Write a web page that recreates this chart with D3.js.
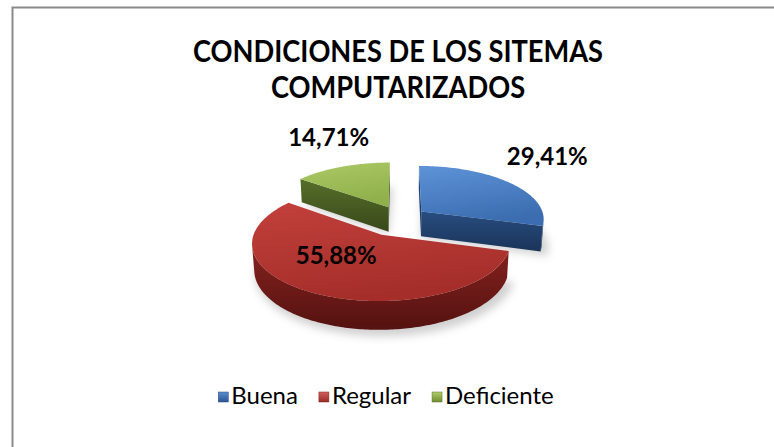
<!DOCTYPE html>
<html>
<head>
<meta charset="utf-8">
<script src="https://cdn.jsdelivr.net/npm/d3@7/dist/d3.min.js"></script>
<style>
  html, body { margin: 0; padding: 0; background: #ffffff; }
  svg { display: block; }
</style>
</head>
<body>
<svg id="chart" width="774" height="447"></svg>
<script>
// ---------------- DATA ----------------
const categories = ["Buena", "Regular", "Deficiente"];
const values = [29.41, 55.88, 14.71];
const valueLabels = ["29,41%", "55,88%", "14,71%"];
const titleLines = ["CONDICIONES DE LOS SITEMAS", "COMPUTARIZADOS"];

// ---------------- LAYOUT / STYLE ----------------
const W = 774, H = 447;
const FONT = "Lato, 'Open Sans', 'Liberation Sans', sans-serif";
const geo = {
  cx: 401, cy: 218,        // projected center of the top plane
  k0: 123,                 // px per radius at center depth
  D: 7,                    // camera distance (in radii)
  phi: 25.5 * Math.PI / 180, // elevation
  h: 0.23                  // thickness (in radii)
};
const explode = [0.21, 0.34, 0.235];      // per slice, in radii
const labelR = [1.45, 0.70, 1.32];        // radial position of labels
const labelDx = [2, 0, 0];
const labelDy = [-16, -20, -19];
const palette = [
  { top: ["#5e93d8", "#3b6db0"], side: ["#284d80", "#1a3459"], key: ["#5a8ed0", "#2c5590"] },
  { top: ["#c2403b", "#a52e2a"], side: ["#86221f", "#541210"], key: ["#d0605c", "#9b2b28"] },
  { top: ["#acca66", "#8fb04a"], side: ["#566e2a", "#38481a"], key: ["#b0cc6a", "#6f8c30"] }
];

const svg = d3.select("#chart");
const defs = svg.append("defs");

palette.forEach((p, i) => {
  const g1 = defs.append("linearGradient").attr("id", "top" + i)
    .attr("x1", 0).attr("y1", 0).attr("x2", 0.3).attr("y2", 1);
  g1.append("stop").attr("offset", "0%").attr("stop-color", p.top[0]);
  g1.append("stop").attr("offset", "100%").attr("stop-color", p.top[1]);
  const g2 = defs.append("linearGradient").attr("id", "side" + i)
    .attr("x1", 0).attr("y1", 0).attr("x2", 0).attr("y2", 1);
  g2.append("stop").attr("offset", "0%").attr("stop-color", p.side[0]);
  g2.append("stop").attr("offset", "100%").attr("stop-color", p.side[1]);
  const g3 = defs.append("linearGradient").attr("id", "key" + i)
    .attr("x1", 0).attr("y1", 0).attr("x2", 0).attr("y2", 1);
  g3.append("stop").attr("offset", "0%").attr("stop-color", p.key[0]);
  g3.append("stop").attr("offset", "100%").attr("stop-color", p.key[1]);
});
defs.append("filter").attr("id", "blur").attr("x", "-20%").attr("y", "-50%")
  .attr("width", "140%").attr("height", "200%")
  .append("feGaussianBlur").attr("stdDeviation", 4);

// frame
svg.append("path")
  .attr("d", `M12.5,${H} L12.5,7.5 L${W},7.5`)
  .attr("fill", "none").attr("stroke", "#8a8a8a").attr("stroke-width", 2);

// ---------------- TITLE ----------------
const title = svg.append("g").attr("font-family", FONT).attr("font-weight", 700)
  .attr("text-anchor", "middle").attr("fill", "#000");
const TS = 30;
const t1 = title.append("text").attr("x", 398).attr("y", 62).attr("font-size", TS).text(titleLines[0]);
const t2 = title.append("text").attr("x", 398).attr("y", 98).attr("font-size", TS).text(titleLines[1]);
const squeeze = 410 / t1.node().getComputedTextLength();
[t1, t2].forEach(t => {
  const w = t.node().getComputedTextLength();
  t.attr("textLength", w * squeeze).attr("lengthAdjust", "spacingAndGlyphs");
});

// ---------------- 3D PIE ----------------
const cosP = Math.cos(geo.phi), sinP = Math.sin(geo.phi);
function P(X, Y, Z) {
  const yc = Y * cosP + Z * sinP;
  const zc = Z * cosP - Y * sinP;
  const s = geo.k0 * geo.D / (geo.D + zc);
  return [geo.cx + s * X, geo.cy - s * yc];
}
const cam = [0, geo.D * sinP, -geo.D * cosP];

const arcs = d3.pie().sort(null).value(d => d).startAngle(0).endAngle(2 * Math.PI)(values);
const line = d3.line();
const STEP = Math.PI / 180;

function sampleAngles(a, b) {
  const n = Math.max(2, Math.ceil((b - a) / STEP));
  return d3.range(n + 1).map(k => a + (b - a) * k / n);
}

const slices = arcs.map((a, i) => {
  const mid = (a.startAngle + a.endAngle) / 2;
  const ax = explode[i] * Math.sin(mid), az = explode[i] * Math.cos(mid);
  return { i, a0: a.startAngle, a1: a.endAngle, mid, ax, az };
});

const rim = (s, t, Y) => P(s.ax + Math.sin(t), Y, s.az + Math.cos(t));
const apex = (s, Y) => P(s.ax, Y, s.az);

function visible(n, p) {
  return n[0] * (cam[0] - p[0]) + n[1] * (cam[1] - p[1]) + n[2] * (cam[2] - p[2]) > 0;
}

// shadow
const shadowG = svg.append("g").attr("filter", "url(#blur)").attr("opacity", 0.35);
slices.forEach(s => {
  const pts = [apex(s, -geo.h - 0.02)].concat(sampleAngles(s.a0, s.a1).map(t =>
    P(s.ax + 1.02 * Math.sin(t) + 0.03, -geo.h - 0.02, s.az + 1.02 * Math.cos(t) - 0.03)));
  shadowG.append("path").attr("d", line(pts) + "Z").attr("fill", "#7a7a7a");
});

const pieG = svg.append("g");
const order = slices.slice().sort((p, q) => q.az - p.az);
order.forEach(s => {
  const g = pieG.append("g");
  const top = 0, bot = -geo.h;
  [[s.a0, -1], [s.a1, 1]].forEach(([t, sign]) => {
    const n = [sign * Math.cos(t), 0, -sign * Math.sin(t)];
    const pm = [s.ax + 0.5 * Math.sin(t), -geo.h / 2, s.az + 0.5 * Math.cos(t)];
    if (visible(n, pm)) {
      const pts = [apex(s, top), rim(s, t, top), rim(s, t, bot), apex(s, bot)];
      g.append("path").attr("d", line(pts) + "Z").attr("fill", `url(#side${s.i})`);
    }
  });
  const ang = sampleAngles(s.a0, s.a1);
  let run = [];
  const runs = [];
  ang.forEach(t => {
    const n = [Math.sin(t), 0, Math.cos(t)];
    const pm = [s.ax + Math.sin(t), -geo.h / 2, s.az + Math.cos(t)];
    if (visible(n, pm)) run.push(t);
    else if (run.length) { runs.push(run); run = []; }
  });
  if (run.length) runs.push(run);
  runs.forEach(r => {
    if (r.length < 2) return;
    const pts = r.map(t => rim(s, t, top)).concat(r.slice().reverse().map(t => rim(s, t, bot)));
    g.append("path").attr("d", line(pts) + "Z").attr("fill", `url(#side${s.i})`);
  });
  const tp = [apex(s, top)].concat(ang.map(t => rim(s, t, top)));
  g.append("path").attr("d", line(tp) + "Z").attr("fill", `url(#top${s.i})`);
});

// ---------------- LABELS ----------------
const labG = svg.append("g").attr("font-family", FONT).attr("font-weight", 700)
  .attr("font-size", 24).attr("text-anchor", "middle").attr("fill", "#000");
slices.forEach(s => {
  const p = P(s.ax + labelR[s.i] * Math.sin(s.mid), 0, s.az + labelR[s.i] * Math.cos(s.mid));
  labG.append("text").attr("x", p[0] + labelDx[s.i]).attr("y", p[1] + labelDy[s.i])
    .attr("dominant-baseline", "central").text(valueLabels[s.i]);
});

// ---------------- LEGEND ----------------
const leg = svg.append("g").attr("font-family", FONT).attr("font-size", 24).attr("fill", "#000");
const items = categories.map((c, i) => {
  const g = leg.append("g");
  g.append("rect").attr("width", 10).attr("height", 10).attr("y", -12)
    .attr("fill", `url(#key${i})`).attr("stroke", d3.color(palette[i].key[1]).darker(0.5)).attr("stroke-width", 0.5);
  const tx = g.append("text").attr("x", 13).attr("y", 0).text(c);
  return { g, w: 13 + tx.node().getComputedTextLength() };
});
const gap = 21;
const total = d3.sum(items, d => d.w) + gap * (items.length - 1);
let x0 = 386 - total / 2;
items.forEach(it => { it.g.attr("transform", `translate(${x0},${404})`); x0 += it.w + gap; });
</script>
</body>
</html>
